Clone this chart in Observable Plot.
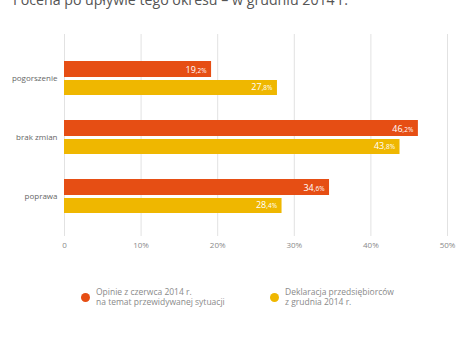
<!DOCTYPE html>
<html>
<head>
<meta charset="utf-8">
<script src="https://cdn.jsdelivr.net/npm/d3@7"></script>
<script src="https://cdn.jsdelivr.net/npm/@observablehq/plot@0.6"></script>
<style>
  html, body { margin: 0; padding: 0; background: #fff; }
  body { width: 475px; height: 342px; position: relative; overflow: hidden; font-family: "Open Sans", sans-serif; }
  #title { position: absolute; left: 13px; top: -7px; font-size: 14.2px; line-height: 1; color: #555; white-space: nowrap; }
  #chart { position: absolute; left: 0; top: 0; }
  .leg { position: absolute; display: flex; align-items: center; font-size: 8.5px; line-height: 10px; color: #8a8a8a; }
  .leg .sw { width: 9px; height: 9px; border-radius: 50%; margin-right: 6px; flex: none; }
</style>
</head>
<body>
<div id="title">I ocena po upływie tego okresu – w grudniu 2014 r.</div>
<div id="chart"></div>
<div id="legend"></div>
<script>
const categories = ["pogorszenie", "brak zmian", "poprawa"];
const seriesNames = ["Opinie z czerwca 2014 r.\nna temat przewidywanej sytuacji", "Deklaracja przedsiębiorców\nz grudnia 2014 r."];
const seriesColors = ["#e64e14", "#efb700"];
const juneValues = [19.2, 46.2, 34.6];
const decValues = [27.8, 43.8, 28.4];
const xTicks = [0, 10, 20, 30, 40, 50];
const xTickLabels = ["0", "10%", "20%", "30%", "40%", "50%"];

const june = categories.map((c, i) => ({cat: c, value: juneValues[i]}));
const dec = categories.map((c, i) => ({cat: c, value: decValues[i]}));

function splitLabel() {
  return function(index, scales, values, dims, context, next) {
    const g = next(index, scales, values, dims, context);
    d3.select(g).selectAll("text").each(function() {
      const t = this.textContent;
      const k = t.indexOf(",");
      if (k < 0) return;
      const sel = d3.select(this);
      sel.text(null);
      sel.append("tspan").text(t.slice(0, k));
      sel.append("tspan").attr("font-size", 6.5).text(t.slice(k));
    });
    return g;
  };
}

const fmt = v => String(v).replace(".", ",") + "%";

const plot = Plot.plot({
  width: 475,
  height: 255,
  marginLeft: 64,
  marginRight: 28,
  marginTop: 34,
  marginBottom: 19,
  style: {fontFamily: "Open Sans, sans-serif", background: "transparent"},
  x: {domain: [0, 50], axis: null},
  y: {domain: categories, range: [60, 213], paddingInner: 0.428, paddingOuter: 0, axis: null},
  marks: [
    Plot.ruleX(xTicks, {stroke: "#e2e2e2", strokeWidth: 1}),
    Plot.axisX(xTicks, {tickSize: 0, tickPadding: 6, tickFormat: d => xTickLabels[xTicks.indexOf(d)], fontSize: 8, fill: "#8a8a8a", label: null}),
    Plot.axisY(categories, {tickSize: 0, tickPadding: 7, fontSize: 8, fill: "#666", label: null}),
    Plot.barX(june, {y: "cat", x: "value", fill: seriesColors[0], insetBottom: 18}),
    Plot.barX(dec, {y: "cat", x: "value", fill: seriesColors[1], insetTop: 19}),
    Plot.text(june, {y: "cat", x: "value", text: d => fmt(d.value), textAnchor: "end", dx: -5, dy: -8.5, fill: "white", fontSize: 9, render: splitLabel()}),
    Plot.text(dec, {y: "cat", x: "value", text: d => fmt(d.value), textAnchor: "end", dx: -5, dy: 8.5, fill: "white", fontSize: 9, render: splitLabel()})
  ]
});
document.getElementById("chart").appendChild(plot);

const legendPos = [[81, 287], [270, 287]];
const legend = document.getElementById("legend");
seriesNames.forEach((name, i) => {
  const d = document.createElement("div");
  d.className = "leg";
  d.style.left = legendPos[i][0] + "px";
  d.style.top = legendPos[i][1] + "px";
  const sw = document.createElement("div");
  sw.className = "sw";
  sw.style.background = seriesColors[i];
  const tx = document.createElement("div");
  tx.innerHTML = name.split("\n").join("<br>");
  d.appendChild(sw);
  d.appendChild(tx);
  legend.appendChild(d);
});
</script>
</body>
</html>
